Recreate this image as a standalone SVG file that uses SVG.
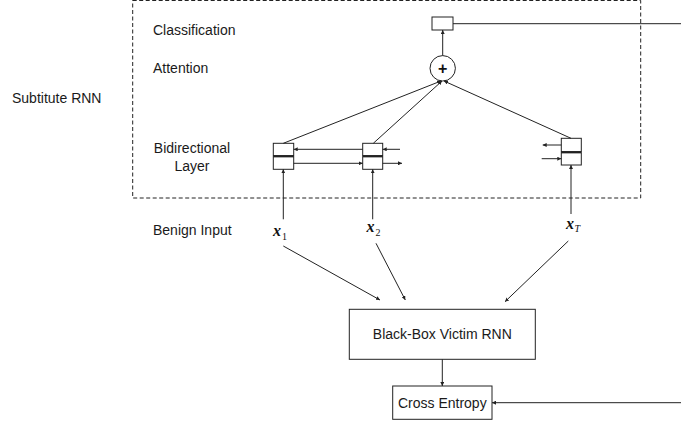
<svg xmlns="http://www.w3.org/2000/svg" width="681" height="422" viewBox="0 0 681 422">
<style>
.lbl{font-family:"Liberation Sans",Arial,sans-serif;font-size:14px;fill:#1a1a1a}
.box{fill:#fff;stroke:#222;stroke-width:1}
.ln{stroke:#222;stroke-width:1;fill:none}
.var{font-family:"Liberation Serif","Times New Roman",serif;font-size:16px;font-style:italic;font-weight:bold;fill:#111}
.sub{font-family:"Liberation Serif","Times New Roman",serif;font-size:10px;fill:#111}
</style>
<defs>
<marker id="ah" viewBox="0 0 6 6" refX="6" refY="3" markerWidth="4" markerHeight="4" orient="auto" markerUnits="userSpaceOnUse">
<path d="M0,0 L6,3 L0,6 z" fill="#222"/>
</marker>
</defs>
<rect id="subrnn-frame" x="132.7" y="0.5" width="508" height="197.5" fill="none" stroke="#222" stroke-width="1" stroke-dasharray="4,2.5"/>
<g id="labels">
<text class="lbl" x="12" y="103">Subtitute RNN</text>
<text class="lbl" x="153" y="34.5">Classification</text>
<text class="lbl" x="153" y="73">Attention</text>
<text class="lbl" x="192" y="152.5" text-anchor="middle">Bidirectional</text>
<text class="lbl" x="192" y="170.5" text-anchor="middle">Layer</text>
<text class="lbl" x="153" y="235">Benign Input</text>
</g>
<g id="classification"><rect class="box" x="432" y="17" width="21" height="13"/></g>
<g id="attention"><circle class="box" cx="442.7" cy="68.3" r="12.7"/>
<text x="442.7" y="73.5" text-anchor="middle" style="font-family:'Liberation Sans',Arial,sans-serif;font-size:16px;font-weight:bold;fill:#111">+</text></g>
<g id="cell1"><rect class="box" x="273.3" y="143.3" width="20.4" height="12.4"/><rect class="box" x="273.3" y="156.7" width="20.4" height="12.6"/><line x1="273.3" y1="156.2" x2="293.7" y2="156.2" stroke="#222" stroke-width="2"/></g>
<g id="cell2"><rect class="box" x="362.7" y="143.3" width="20" height="12.4"/><rect class="box" x="362.7" y="156.7" width="20" height="12.6"/><line x1="362.7" y1="156.2" x2="382.7" y2="156.2" stroke="#222" stroke-width="2"/></g>
<g id="cellT"><rect class="box" x="561.3" y="138.3" width="20" height="13.4"/><rect class="box" x="561.3" y="152.7" width="20" height="12.3"/><line x1="561.3" y1="152.2" x2="581.3" y2="152.2" stroke="#222" stroke-width="2"/></g>
<g id="inputs">
<text class="var" x="273" y="236">x</text><text class="sub" x="282" y="240">1</text>
<text class="var" x="366.5" y="232">x</text><text class="sub" x="375.5" y="236">2</text>
<text class="var" x="566" y="228.5">x</text><text class="sub" x="574.5" y="232" font-style="italic">T</text>
</g>
<g id="victim"><rect class="box" x="349.3" y="309.3" width="186" height="50"/>
<text class="lbl" x="442.3" y="339" text-anchor="middle">Black-Box Victim RNN</text></g>
<g id="crossentropy"><rect class="box" x="392.7" y="386" width="99.3" height="33.3"/>
<text class="lbl" x="442.3" y="407.5" text-anchor="middle">Cross Entropy</text></g>
<g id="connectors">
<line class="ln" x1="442.7" y1="55.6" x2="442.7" y2="30" marker-end="url(#ah)"/>
<line class="ln" x1="453" y1="23.7" x2="681" y2="23.7"/>
<line class="ln" x1="283.3" y1="143.3" x2="441" y2="81" marker-end="url(#ah)"/>
<line class="ln" x1="373.3" y1="143.3" x2="442" y2="81" marker-end="url(#ah)"/>
<line class="ln" x1="571" y1="138.3" x2="444" y2="81" marker-end="url(#ah)"/>
<line class="ln" x1="362.7" y1="149.3" x2="293.7" y2="149.3" marker-end="url(#ah)"/>
<line class="ln" x1="293.7" y1="163.3" x2="362.7" y2="163.3" marker-end="url(#ah)"/>
<line class="ln" x1="400" y1="149.3" x2="382.7" y2="149.3" marker-end="url(#ah)"/>
<line class="ln" x1="382.7" y1="163.3" x2="402" y2="163.3" marker-end="url(#ah)"/>
<line class="ln" x1="561.3" y1="145" x2="542.7" y2="145" marker-end="url(#ah)"/>
<line class="ln" x1="541.7" y1="158.7" x2="561.3" y2="158.7" marker-end="url(#ah)"/>
<line class="ln" x1="283.3" y1="219.3" x2="283.3" y2="169.3" marker-end="url(#ah)"/>
<line class="ln" x1="372.7" y1="219.3" x2="372.7" y2="169.3" marker-end="url(#ah)"/>
<line class="ln" x1="571" y1="214" x2="571" y2="165" marker-end="url(#ah)"/>
<line class="ln" x1="283.3" y1="246" x2="380" y2="300" marker-end="url(#ah)"/>
<line class="ln" x1="376" y1="243.3" x2="405.3" y2="300" marker-end="url(#ah)"/>
<line class="ln" x1="568.3" y1="241" x2="505" y2="301.7" marker-end="url(#ah)"/>
<line class="ln" x1="442.3" y1="359.3" x2="442.3" y2="386" marker-end="url(#ah)"/>
<line class="ln" x1="681" y1="402.7" x2="492" y2="402.7" marker-end="url(#ah)"/>
</g>
</svg>
